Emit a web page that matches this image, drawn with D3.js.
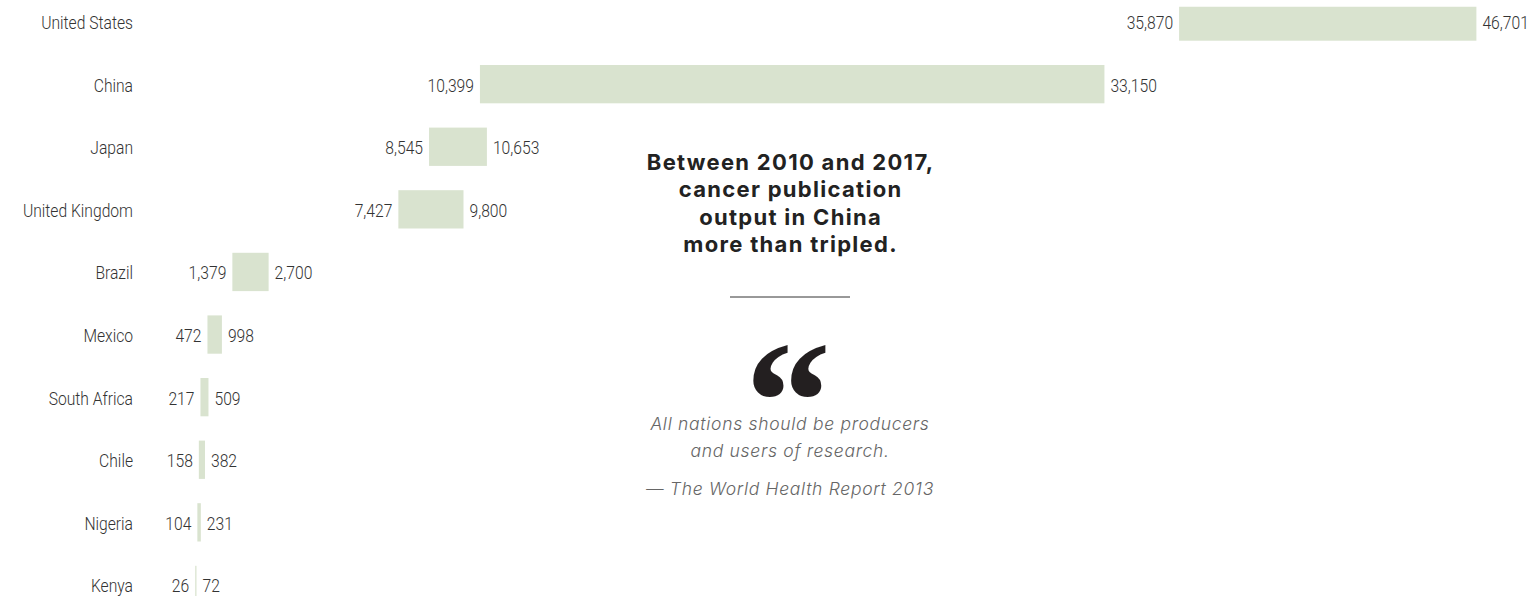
<!DOCTYPE html>
<html>
<head>
<meta charset="utf-8">
<script src="https://cdn.jsdelivr.net/npm/d3@7"></script>
<style>
  html, body { margin: 0; padding: 0; background: #fff; }
  svg { display: block; }
  .lbl { font-family: "Roboto", "DejaVu Sans Condensed", sans-serif; font-weight: 300; font-size: 18px; fill: #333; }
  .head { font-family: "Inter", "Lato", sans-serif; font-weight: 700; font-size: 22px; letter-spacing: 1.3px; fill: #222; }
  .quote { font-family: "Inter", "Lato", sans-serif; font-weight: 300; font-style: italic; font-size: 17.5px; letter-spacing: 0.7px; fill: #666; }
  .qmark { font-family: "Liberation Serif", "DejaVu Serif", serif; font-weight: 700; font-size: 172px; fill: #231f20; }
</style>
</head>
<body>
<svg id="chart" width="1532" height="596"></svg>
<script>
const countries = ["United States","China","Japan","United Kingdom","Brazil","Mexico","South Africa","Chile","Nigeria","Kenya"];
const values2010 = [35870,10399,8545,7427,1379,472,217,158,104,26];
const values2017 = [46701,33150,10653,9800,2700,998,509,382,231,72];
const headline = ["Between 2010 and 2017,","cancer publication","output in China","more than tripled."];
const quoteLines = ["All nations should be producers","and users of research."];
const quoteSource = "\u2014 The World Health Report 2013";

const W = 1532, H = 596;
const SX = 0.87; // horizontal condensing of label font
const svg = d3.select("#chart");
const data = countries.map((c,i)=>({c, a: values2010[i], b: values2017[i]}));

const x = d3.scaleLinear().domain([0, d3.max(values2017)]).range([194.5, 1476.4]);
const y = d3.scaleBand().domain(countries).range([-9.75, 616.25]).paddingInner(0.388).paddingOuter(0.194);

svg.append("defs").append("clipPath").attr("id","clip")
  .append("rect").attr("x",0).attr("y",6.7).attr("width",W).attr("height",H);

const g = svg.append("g").attr("clip-path","url(#clip)");

g.selectAll("rect.bar").data(data).join("rect").attr("class","bar")
  .attr("x", d=>x(d.a)).attr("width", d=>Math.max(1.2, x(d.b)-x(d.a)))
  .attr("y", d=>y(d.c)).attr("height", y.bandwidth())
  .attr("fill", "#d9e3cf");

const fmt = d3.format(",");
const cy = d => y(d.c) + y.bandwidth()/2 + 1.2;

function condensed(sel, xf, anchor) {
  sel.attr("transform", d => `translate(${xf(d)},${cy(d)}) scale(${SX},1)`)
     .attr("x", 0).attr("y", 0).attr("dy", "0.35em").attr("text-anchor", anchor);
}

svg.selectAll("text.country").data(data).join("text").attr("class","lbl country")
  .call(condensed, d=>133, "end").text(d=>d.c);
svg.selectAll("text.v0").data(data).join("text").attr("class","lbl v0")
  .call(condensed, d=>x(d.a)-6, "end").text(d=>fmt(d.a));
svg.selectAll("text.v1").data(data).join("text").attr("class","lbl v1")
  .call(condensed, d=>x(d.b)+6, "start").text(d=>fmt(d.b));

const cx = 790;
svg.append("g").selectAll("text").data(headline).join("text").attr("class","head")
  .attr("x", cx + 0.6).attr("y", (d,i)=>169.5 + i*27.5).attr("text-anchor","middle").text(d=>d);

svg.append("line").attr("x1", cx-60).attr("x2", cx+60).attr("y1", 297).attr("y2", 297)
  .attr("stroke","#333").attr("stroke-width",1);

svg.append("text").attr("class","qmark").attr("x", cx - 2).attr("y", 459).attr("text-anchor","middle").text("\u201C");

svg.append("g").selectAll("text").data(quoteLines).join("text").attr("class","quote")
  .attr("x", cx).attr("y", (d,i)=>430 + i*27).attr("text-anchor","middle").text(d=>d);
svg.append("text").attr("class","quote").attr("x", cx).attr("y", 495).attr("text-anchor","middle").text(quoteSource);
</script>
</body>
</html>
